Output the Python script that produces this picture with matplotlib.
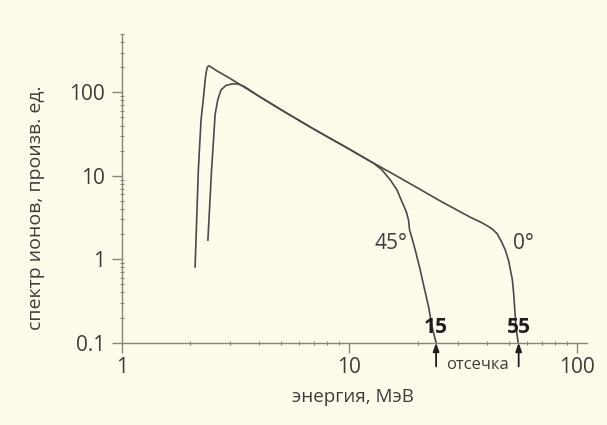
import matplotlib
matplotlib.use("Agg")
import matplotlib.pyplot as plt
from matplotlib.ticker import LogLocator, NullFormatter, FixedLocator, FixedFormatter

# ---- data ----
energy_0 = [2.10, 2.17, 2.23, 2.28, 2.33, 2.36, 2.38, 2.42, 2.6, 3.0, 4.0, 5.0, 7.0, 10.0,
            12.4, 15.0, 20.0, 25.0, 33.9, 38.0, 40.8, 42.5, 44.5, 46.5, 48.3, 50.0,
            51.9, 52.6, 53.8, 55.0]
spec_0 = [0.81, 11.7, 46.8, 81.3, 149, 186, 202, 208, 183, 146, 90, 62, 36, 20.8,
          14.8, 11.1, 7.1, 5.0, 3.19, 2.75, 2.46, 2.28, 2.02, 1.62, 1.29, 0.95,
          0.565, 0.38, 0.156, 0.1]

energy_45 = [2.39, 2.48, 2.53, 2.57, 2.64, 2.73, 2.87, 3.05, 3.25, 3.48, 4.0, 5.0, 7.0, 10.0,
             12.4, 12.75, 13.88, 15.10, 16.16, 16.99, 17.75, 18.16, 18.35, 18.80, 19.44,
             20.44, 21.29, 22.24, 23.02, 24.0]
spec_45 = [1.70, 11.7, 26.9, 53.7, 81.3, 107, 121, 126, 126, 116, 90, 62, 36, 20.8,
           14.8, 14.2, 11.77, 8.93, 6.78, 4.90, 3.72, 2.96, 2.25, 1.80, 1.29,
           0.745, 0.453, 0.270, 0.156, 0.1]

curve_labels = ["0°", "45°"]
label_pos = [(57.9, 1.53), (15.25, 1.53)]
cutoff_energy = [24.0, 55.3]
cutoff_labels = ["15", "55"]

x_ticks = [1, 10, 100]
x_ticklabels = ["1", "10", "100"]
y_ticks = [0.1, 1, 10, 100]
y_ticklabels = ["0.1", "1", "10", "100"]

# ---- style ----
bg = "#FEFBEA"
line_c = "#4a4a4a"
text_c = "#3c3c3c"
axis_c = "#85857c"
font = ["Open Sans", "DejaVu Sans"]
plt.rcParams["font.family"] = font

fig = plt.figure(figsize=(6.07, 4.25), dpi=100, facecolor=bg)
ax = fig.add_axes([121.7 / 607, (425 - 342.7) / 425, (586.7 - 121.7) / 607, (342.7 - 34) / 425])
ax.set_facecolor(bg)

ax.plot(energy_0, spec_0, color=line_c, lw=1.2, solid_joinstyle="round")
ax.plot(energy_45, spec_45, color=line_c, lw=1.2, solid_joinstyle="round")

ax.set_xscale("log")
ax.set_yscale("log")
ax.set_xlim(1, 110)
ax.set_ylim(0.1, 500)

for s in ["top", "right"]:
    ax.spines[s].set_visible(False)
for s in ["left", "bottom"]:
    ax.spines[s].set_color(axis_c)
    ax.spines[s].set_linewidth(1.0)

ax.xaxis.set_major_locator(FixedLocator(x_ticks))
ax.xaxis.set_major_formatter(FixedFormatter(x_ticklabels))
ax.yaxis.set_major_locator(FixedLocator(y_ticks))
ax.yaxis.set_major_formatter(FixedFormatter(y_ticklabels))
ax.xaxis.set_minor_locator(LogLocator(base=10, subs=range(2, 10)))
ax.yaxis.set_minor_locator(LogLocator(base=10, subs=range(2, 10)))
ax.xaxis.set_minor_formatter(NullFormatter())
ax.yaxis.set_minor_formatter(NullFormatter())

ax.tick_params(which="major", direction="out", length=7.2, width=1.0, color=axis_c,
               labelsize=15, labelcolor=text_c)
ax.tick_params(axis="x", which="major", pad=3)
ax.tick_params(axis="y", which="major", pad=5)
ax.tick_params(which="minor", direction="inout", length=3.5, width=0.8, color=axis_c)

ax.set_xlabel("энергия, МэВ", fontsize=13.5, color=text_c)
ax.xaxis.label.set_va("center")
ax.xaxis.set_label_coords((353 - 121.7) / 465, (342.7 - 397) / 308.7)
ax.set_ylabel("спектр ионов, произв. ед.", fontsize=14, color=text_c)
ax.yaxis.label.set_va("center")
ax.yaxis.set_label_coords((36 - 121.7) / 465, (342.7 - 208) / 308.7)

for lab, (xp, yp) in zip(curve_labels, label_pos):
    ax.text(xp, yp, lab, fontsize=15, color=text_c, ha="center", va="center")

for xe, lab in zip(cutoff_energy, cutoff_labels):
    ax.text(xe, 0.152, lab, fontsize=15, fontweight="bold", color="#1e1e1e",
            ha="center", va="center")
    ax.annotate("", xy=(xe, 0.1), xytext=(xe, 0.052), annotation_clip=False,
                arrowprops=dict(arrowstyle="-|>,head_length=0.5,head_width=0.18",
                                color="#1e1e1e", lw=1.3, shrinkA=0, shrinkB=0))

ax.text(36.3, 0.054, "отсечка", fontsize=12, color=text_c, ha="center", va="center",
        clip_on=False)

fig.savefig("out.png", dpi=100, facecolor=bg)
